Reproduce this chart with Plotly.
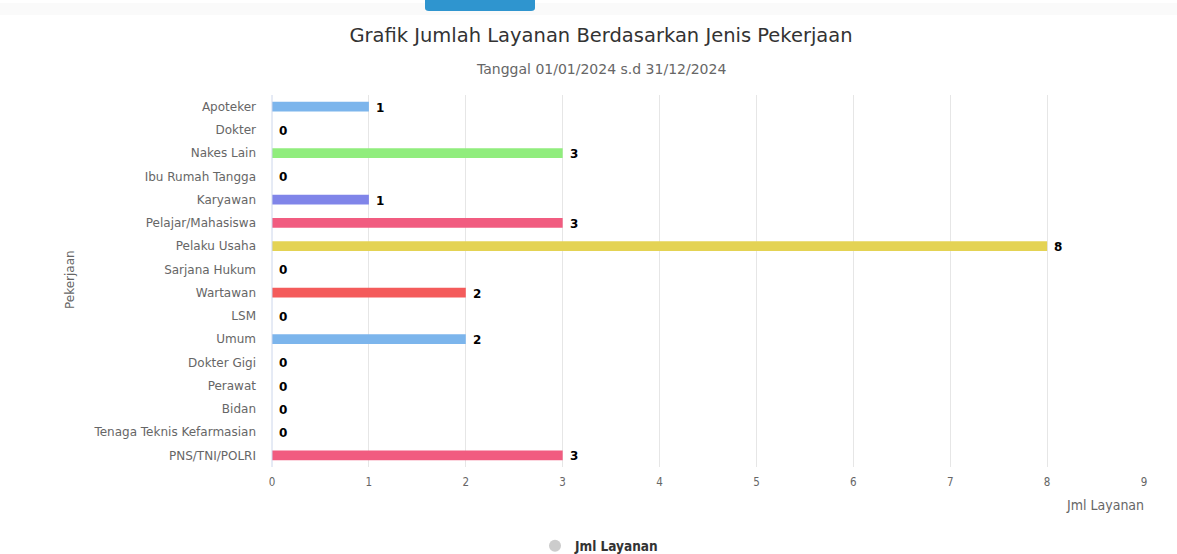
import plotly.graph_objects as go

# Service counts per occupation, 01/01/2024 - 31/12/2024
categories = [
    "Apoteker", "Dokter", "Nakes Lain", "Ibu Rumah Tangga", "Karyawan",
    "Pelajar/Mahasiswa", "Pelaku Usaha", "Sarjana Hukum", "Wartawan", "LSM",
    "Umum", "Dokter Gigi", "Perawat", "Bidan", "Tenaga Teknis Kefarmasian",
    "PNS/TNI/POLRI",
]
values = [1, 0, 3, 0, 1, 3, 8, 0, 2, 0, 2, 0, 0, 0, 0, 3]
x_ticks = [0, 1, 2, 3, 4, 5, 6, 7, 8, 9]

palette = ["#7cb5ec", "#434348", "#90ed7d", "#f7a35c", "#8085e9",
           "#f15c80", "#e4d354", "#2b908f", "#f45b5b", "#91e8e1"]
bar_colors = [palette[i % len(palette)] for i in range(len(categories))]

W, H = 1177, 554
L, R, T, B = 272, 1144, 95, 467
pw, ph = R - L, B - T

def px_x(px):
    return (px - L) / pw

def px_y(py):
    return (B - py) / ph

base_font = "DejaVu Sans"
narrow_font = "DejaVu Sans Condensed"

fig = go.Figure()
fig.add_trace(go.Bar(
    y=categories,
    x=values,
    orientation="h",
    marker=dict(color=bar_colors, line=dict(width=0)),
    width=0.43,
    showlegend=False,
    hoverinfo="x+y",
))
# legend entry (grey circle symbol)
fig.add_trace(go.Scatter(
    x=[None], y=[None], mode="markers", name="Jml Layanan",
    marker=dict(symbol="circle", size=12, color="#cccccc"),
    showlegend=True,
))

fig.update_layout(
    width=W, height=H,
    margin=dict(l=L, r=W - R, t=T, b=H - B, autoexpand=False),
    paper_bgcolor="white",
    plot_bgcolor="white",
    font=dict(family=base_font, color="#666666", size=12),
    title=dict(
        text="Grafik Jumlah Layanan Berdasarkan Jenis Pekerjaan",
        font=dict(family=base_font, size=19.5, color="#333333"),
        xref="container", x=601 / W, xanchor="center",
        yref="container", y=1 - 35 / H, yanchor="middle",
    ),
    xaxis=dict(
        range=[0, 9],
        tickvals=x_ticks,
        ticktext=[str(t) for t in x_ticks],
        showgrid=True, gridcolor="#e6e6e6", gridwidth=1,
        zeroline=False, showline=False,
        tickfont=dict(family=narrow_font, size=11.5, color="#666666"),
        ticks="", ticklabelstandoff=6,
        fixedrange=True,
    ),
    yaxis=dict(
        categoryorder="array", categoryarray=categories,
        autorange="reversed",
        showgrid=False, zeroline=False,
        showline=False,
        tickfont=dict(family=base_font, size=12, color="#666666"),
        ticks="", ticklabelstandoff=15,
        fixedrange=True,
    ),
    showlegend=True,
    legend=dict(
        orientation="h",
        x=px_x(535), xanchor="left",
        y=px_y(546), yanchor="middle",
        font=dict(family=narrow_font, size=13.5, color="#333333", weight="bold"),
        bgcolor="rgba(0,0,0,0)",
        itemsizing="constant",
    ),
    bargap=0.5,
)

# y axis line
fig.add_shape(type="line", xref="paper", yref="paper",
              x0=0, x1=0, y0=0, y1=1,
              line=dict(color="#ccd6eb", width=1), layer="above")

# page decoration at the top: faint band and blue tab
fig.add_shape(type="rect", xref="paper", yref="paper",
              x0=px_x(0), x1=px_x(W), y0=px_y(15), y1=px_y(3),
              line=dict(width=0), fillcolor="rgba(246,246,246,0.6)", layer="below")
fig.add_shape(type="path", xref="paper", yref="paper",
              path=(f"M {px_x(425)} {px_y(0)} L {px_x(535)} {px_y(0)} "
                    f"L {px_x(535)} {px_y(8)} Q {px_x(535)} {px_y(11)} {px_x(531)} {px_y(11)} "
                    f"L {px_x(429)} {px_y(11)} Q {px_x(425)} {px_y(11)} {px_x(425)} {px_y(8)} Z"),
              line=dict(width=0), fillcolor="#2f95cf", layer="above")

annotations = [
    dict(text="Tanggal 01/01/2024 s.d 31/12/2024",
         xref="paper", yref="paper", x=px_x(601), y=px_y(69),
         xanchor="center", yanchor="middle", showarrow=False,
         font=dict(family=base_font, size=14, color="#666666")),
    dict(text="Pekerjaan",
         xref="paper", yref="paper", x=px_x(70), y=px_y(280),
         xanchor="center", yanchor="middle", showarrow=False, textangle=-90,
         font=dict(family=base_font, size=12, color="#666666")),
    dict(text="Jml Layanan",
         xref="paper", yref="paper", x=px_x(1146), y=px_y(505),
         xanchor="right", yanchor="middle", showarrow=False,
         font=dict(family=narrow_font, size=14, color="#666666")),
]

# value labels to the right of each bar end
for cat, val in zip(categories, values):
    annotations.append(dict(
        text=str(val), x=val, y=cat, xref="x", yref="y",
        xanchor="left", yanchor="middle", xshift=5, yshift=-1, showarrow=False,
        font=dict(family=base_font, size=12, color="#000000", weight="bold"),
    ))

fig.update_layout(annotations=annotations)

fig.write_html("out.html")
